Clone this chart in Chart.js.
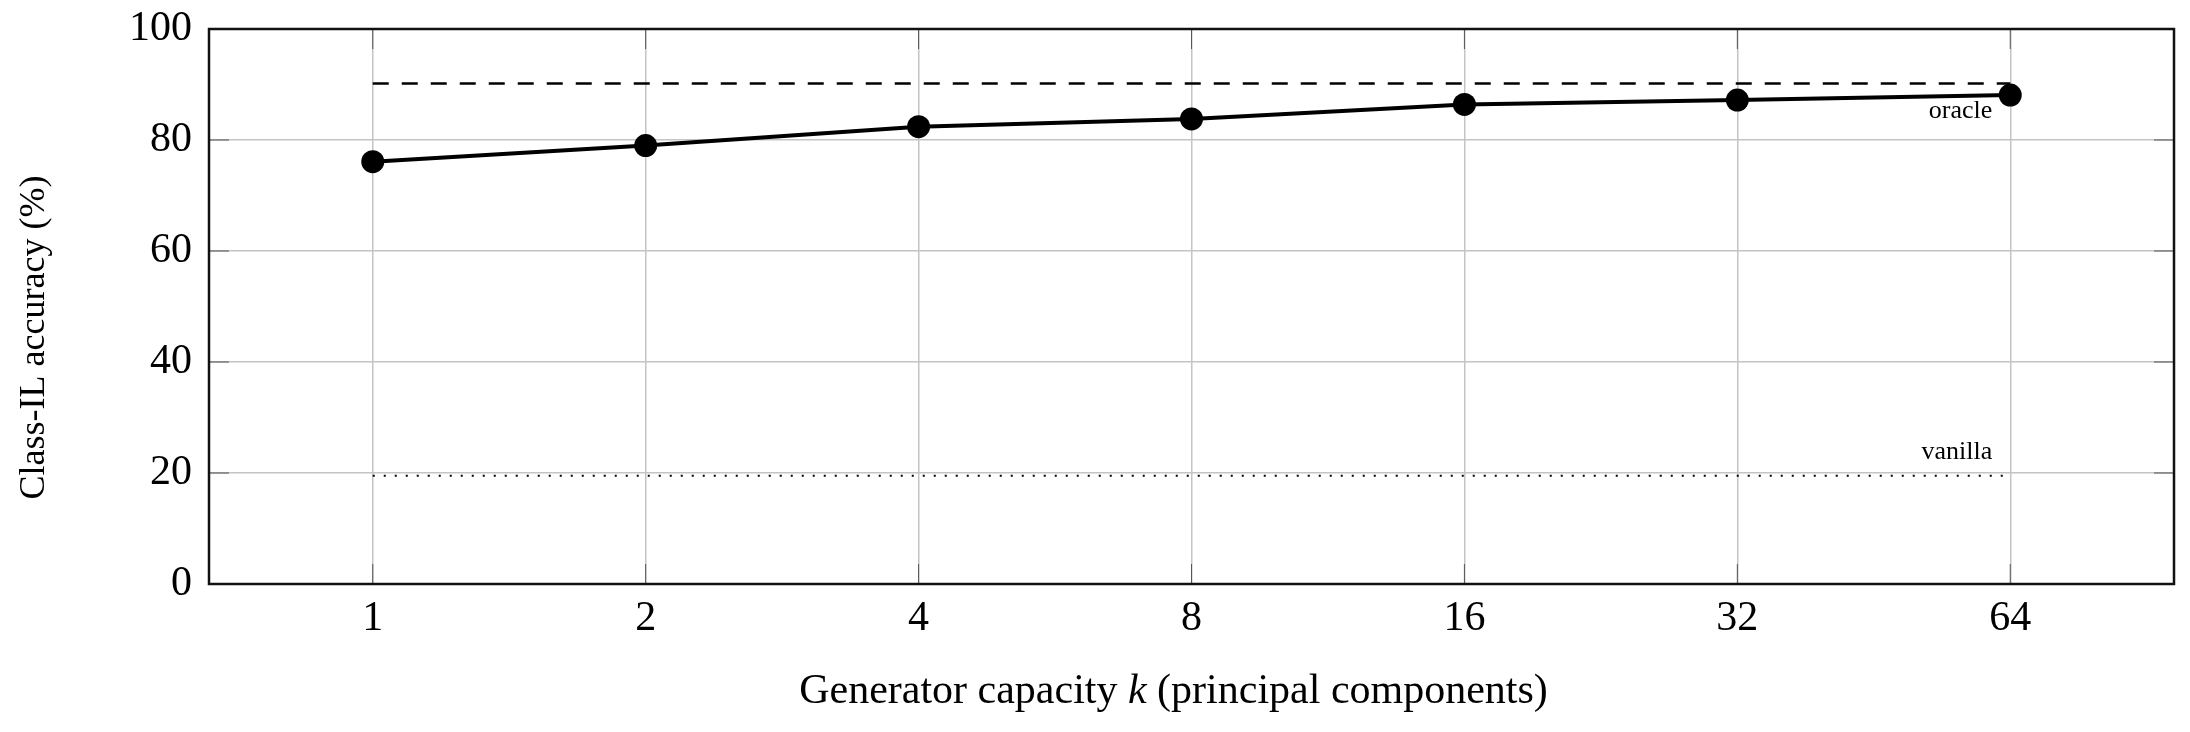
<!DOCTYPE html>
<html>
<head>
<meta charset="utf-8">
<script src="https://cdn.jsdelivr.net/npm/chart.js@4"></script>
<style>
  html, body { margin: 0; padding: 0; background: #fff; }
  #wrap { width: 2190px; height: 732px; }
</style>
</head>
<body>
<div id="wrap"><canvas id="chart" width="2190" height="732"></canvas></div>
<script>
// data
const capacities = ['1', '2', '4', '8', '16', '32', '64'];
const xPos = [0, 1, 2, 3, 4, 5, 6]; // log2 of capacity
const accuracy = [76.1, 79.0, 82.4, 83.8, 86.4, 87.2, 88.1];
const oracleAcc = 90.2;
const vanillaAcc = 19.5;
const yTicks = [0, 20, 40, 60, 80, 100];

const serif = "'Liberation Serif', 'DejaVu Serif', serif";

// frame, inner tick marks, reference labels and axis titles
const framePlugin = {
  id: 'frame',
  afterDraw(chart) {
    const { ctx, chartArea: a, scales } = chart;
    const t = 20;
    ctx.save();
    ctx.strokeStyle = '#555';
    ctx.lineWidth = 1;
    ctx.beginPath();
    yTicks.forEach(v => {
      const y = scales.y.getPixelForValue(v);
      ctx.moveTo(a.left, y); ctx.lineTo(a.left + t, y);
      ctx.moveTo(a.right, y); ctx.lineTo(a.right - t, y);
    });
    xPos.forEach(v => {
      const x = scales.x.getPixelForValue(v);
      ctx.moveTo(x, a.bottom); ctx.lineTo(x, a.bottom - t);
      ctx.moveTo(x, a.top); ctx.lineTo(x, a.top + t);
    });
    ctx.stroke();

    ctx.strokeStyle = '#111';
    ctx.lineWidth = 2.5;
    ctx.strokeRect(a.left, a.top, a.right - a.left, a.bottom - a.top);

    ctx.fillStyle = '#000';
    ctx.font = '26px ' + serif;
    ctx.textAlign = 'right';
    ctx.textBaseline = 'middle';
    const xr = scales.x.getPixelForValue(xPos[xPos.length - 1]) - 18;
    ctx.fillText('oracle', xr, scales.y.getPixelForValue(oracleAcc) + 28);
    ctx.fillText('vanilla', xr, scales.y.getPixelForValue(vanillaAcc) - 24);

    // x axis title, k in italics
    const parts = [
      ['Generator capacity ', ''],
      ['k', 'italic '],
      [' (principal components)', ''],
    ];
    let total = 0;
    parts.forEach(p => { ctx.font = p[1] + '42px ' + serif; total += ctx.measureText(p[0]).width; });
    let x = (a.left + a.right) / 2 - 18 - total / 2;
    ctx.textAlign = 'left';
    parts.forEach(p => {
      ctx.font = p[1] + '42px ' + serif;
      ctx.fillText(p[0], x, 692);
      x += ctx.measureText(p[0]).width;
    });

    // y axis title
    ctx.translate(35, (a.top + a.bottom) / 2 + 31);
    ctx.rotate(-Math.PI / 2);
    ctx.textAlign = 'center';
    ctx.font = '36px ' + serif;
    ctx.fillText('Class-IL accuracy (%)', 0, 0);
    ctx.restore();
  }
};

const first = xPos[0], last = xPos[xPos.length - 1];

new Chart(document.getElementById('chart').getContext('2d'), {
  type: 'line',
  data: {
    datasets: [
      {
        data: [{ x: first, y: oracleAcc }, { x: last, y: oracleAcc }],
        borderColor: '#000',
        borderWidth: 2.5,
        borderDash: [16, 13],
        pointRadius: 0,
        fill: false,
      },
      {
        data: [{ x: first, y: vanillaAcc }, { x: last, y: vanillaAcc }],
        borderColor: '#000',
        borderWidth: 2,
        borderDash: [2, 9],
        pointRadius: 0,
        fill: false,
      },
      {
        data: xPos.map((x, i) => ({ x: x, y: accuracy[i] })),
        borderColor: '#000',
        borderWidth: 4,
        tension: 0,
        pointRadius: 11.5,
        pointBackgroundColor: '#000',
        pointBorderColor: '#000',
        pointBorderWidth: 0,
        fill: false,
      },
    ],
  },
  options: {
    responsive: false,
    animation: false,
    layout: { padding: { top: 29, right: 16, left: 0, bottom: 0 } },
    plugins: { legend: { display: false }, tooltip: { enabled: false } },
    scales: {
      x: {
        type: 'linear',
        min: -0.6,
        max: 6.6,
        afterBuildTicks: (s) => { s.ticks = xPos.map(v => ({ value: v })); },
        afterFit: (s) => { s.height = 148; s.paddingLeft = 0; s.paddingRight = 0; },
        grid: { color: '#c4c4c4', lineWidth: 1.5, drawTicks: false },
        border: { display: false },
        ticks: {
          padding: 10,
          color: '#000',
          font: { family: serif, size: 42 },
          callback: (v) => capacities[xPos.indexOf(v)],
        },
      },
      y: {
        min: 0,
        max: 100,
        afterBuildTicks: (s) => { s.ticks = yTicks.map(v => ({ value: v })); },
        afterFit: (s) => { s.width = 209; s.paddingTop = 0; s.paddingBottom = 0; },
        grid: { color: '#c4c4c4', lineWidth: 1.5, drawTicks: false },
        border: { display: false },
        ticks: {
          padding: 17,
          color: '#000',
          font: { family: serif, size: 42 },
        },
      },
    },
  },
  plugins: [framePlugin],
});
</script>
</body>
</html>
